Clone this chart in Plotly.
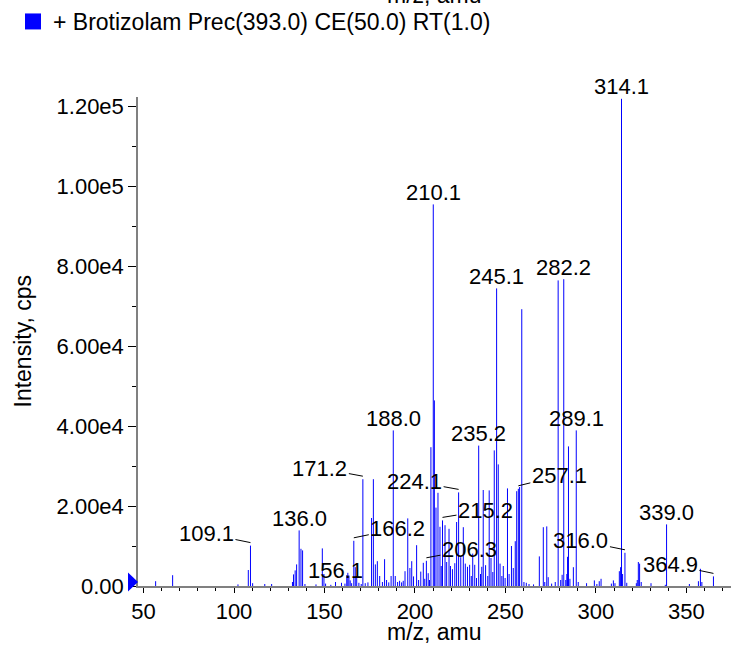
import plotly.graph_objects as go

# ---------------- data ----------------
mz = [56.7, 66.1, 102.2, 107.9, 109.1, 110.3, 117.0, 120.8, 132.3, 132.9, 133.8, 134.6,
      136.0, 137.0, 137.9, 139.2, 145.3, 148.8, 149.7, 150.6, 153.5, 156.1, 159.4, 161.3,
      162.3, 162.9, 163.5, 164.2, 165.0, 166.2, 167.0, 167.8, 169.0, 170.3, 171.2, 172.5,
      174.0, 176.0, 177.0, 178.1, 179.2, 180.5, 182.0, 183.2, 184.3, 185.5, 186.8, 188.0,
      189.1, 190.4, 191.5, 192.6, 193.5, 194.5, 196.0, 197.2, 198.2, 199.2, 200.9, 202.0,
      203.2, 204.6, 205.4, 206.3, 207.3, 208.0, 208.8, 210.1, 210.7, 211.6, 212.7, 213.8,
      214.5, 215.2, 216.6, 217.5, 218.8, 219.6, 220.7, 222.0, 223.0, 224.1, 225.3, 226.7,
      227.8, 229.0, 230.2, 231.1, 231.9, 233.0, 234.0, 235.2, 236.2, 236.9, 237.7, 239.0,
      240.2, 241.0, 242.0, 243.0, 243.8, 245.1, 246.0, 247.0, 248.0, 248.8, 249.8, 251.1,
      252.0, 253.3, 254.3, 255.4, 256.2, 257.1, 257.8, 259.0, 260.2, 261.5, 263.0, 265.5,
      268.7, 270.9, 271.7, 272.8, 273.6, 275.5, 277.5, 279.1, 280.5, 281.3, 282.2, 283.3,
      283.9, 284.3, 284.8, 285.6, 287.5, 289.1, 290.2, 294.8, 299.1, 300.5, 301.8, 302.8,
      308.5, 309.6, 310.5, 312.9, 313.6, 314.1, 314.7, 316.0, 317.0, 322.3, 322.8, 323.4,
      324.1, 325.0, 330.4, 338.3, 339.0, 351.6, 356.6, 357.7, 358.5, 364.9]

intensity = [1200, 2700, 400, 4000, 10100, 700, 500, 500, 1000, 2900, 3900, 5400,
             13900, 9300, 8900, 500, 400, 9400, 3000, 600, 300, 1000, 800, 600,
             2700, 3300, 2600, 1400, 700, 11300, 4700, 2500, 800, 500, 26700, 700,
             900, 17000, 26700, 5400, 6200, 2500, 1000, 6700, 1500, 900, 2500, 38900,
             2500, 1000, 1300, 900, 1300, 3700, 16900, 4500, 6200, 2400, 10200, 1500,
             3600, 5800, 1800, 6300, 3200, 1500, 34700, 95400, 46400, 19600, 23300, 14800,
             5000, 16400, 15200, 6000, 14300, 5000, 4200, 5700, 16000, 23400, 7200, 14700,
             5600, 4800, 5300, 2500, 8100, 5300, 2000, 35100, 3000, 4800, 24000, 5200,
             2500, 23900, 7000, 3500, 33900, 74400, 30400, 5600, 2500, 5000, 2000, 24400,
             3000, 10000, 4500, 11200, 23700, 24300, 24750, 69200, 1000, 800, 500, 400,
             7400, 14700, 1000, 14900, 2200, 600, 1000, 76400, 1500, 2800, 76700, 1500,
             3000, 7300, 34900, 1800, 4700, 38900, 1000, 700, 1400, 500, 1200, 1800,
             600, 1400, 700, 3700, 4700, 121800, 3000, 8300, 800, 700, 1500, 6000,
             5600, 1000, 700, 300, 15400, 500, 1200, 4300, 1000, 2400]

# labelled peaks
label_mz = [314.1, 210.1, 245.1, 282.2, 188.0, 235.2, 289.1, 339.0, 136.0, 156.1,
            109.1, 166.2, 171.2, 224.1, 215.2, 206.3, 257.1, 316.0, 364.9]

y_tickvals = [0, 20000, 40000, 60000, 80000, 100000, 120000]
y_ticktext = ["0.00", "2.00e4", "4.00e4", "6.00e4", "8.00e4", "1.00e5", "1.20e5"]

series_name = "+ Brotizolam Prec(393.0) CE(50.0) RT(1.0)"
x_title = "m/z, amu"
y_title = "Intensity, cps"

# ---------------- style / layout ----------------
W, H = 731, 645
ML, MR, MT, MB = 138, 0, 97, 59
PLOT_W = W - ML - MR
PLOT_H = H - MT - MB
X_RANGE = [46.96, 374.6]
Y_RANGE = [0, 122250]
FONT = "Liberation Sans, Arial, Helvetica, sans-serif"
FS_NUM = 22     # tick labels and peak labels
FS_TXT = 23     # titles and legend
BLUE = "#0000ff"

# leader-line offsets (pixels) from peak to label centre
leaders = {109.1: (-44, -9), 166.2: (44, -9), 171.2: (-43, -8), 224.1: (-44, -8),
           215.2: (43, -7), 206.3: (43, -8), 257.1: (41, -10), 316.0: (-44, -9),
           364.9: (-43, -9)}

xs, ys = [], []
for m, v in zip(mz, intensity):
    xs += [m, m, None]
    ys += [0, v, None]

fig = go.Figure()
fig.add_trace(go.Scatter(x=xs, y=ys, mode="lines",
                         line=dict(color=BLUE, width=1),
                         showlegend=False, hoverinfo="skip"))
# legend entry (blue square)
fig.add_trace(go.Scatter(x=[None], y=[None], mode="markers", name=series_name,
                         marker=dict(symbol="square", size=16, color=BLUE)))

lookup = dict(zip(mz, intensity))
annotations = []
for lm in label_mz:
    v = lookup[lm]
    txt = f"{lm:.1f}"
    if lm in leaders:
        ax, ay = leaders[lm]
        annotations.append(dict(x=lm, y=v, text=txt, showarrow=True, arrowhead=0,
                                arrowwidth=1, arrowcolor="black", ax=ax, ay=ay,
                                standoff=0, yshift=3, font=dict(size=FS_NUM)))
    else:
        annotations.append(dict(x=lm, y=v, text=txt, showarrow=False,
                                yanchor="middle", yshift=12, font=dict(size=FS_NUM)))
# axis titles
annotations.append(dict(xref="paper", yref="paper", x=0.5, y=-46 / PLOT_H,
                        text=x_title, showarrow=False, xanchor="center",
                        yanchor="middle", font=dict(size=FS_TXT)))
annotations.append(dict(xref="paper", yref="paper", x=(22 - ML) / PLOT_W, y=0.5,
                        text=y_title, showarrow=False, textangle=-90,
                        xanchor="center", yanchor="middle", font=dict(size=FS_TXT)))
# clipped axis title from the panel above (only its bottom edge peeks in)
annotations.append(dict(xref="paper", yref="paper", x=0.5,
                        y=(PLOT_H + MT - 10) / PLOT_H,
                        text=x_title, showarrow=False, yanchor="bottom",
                        font=dict(size=FS_TXT)))

# start-of-scan marker: blue triangle pointing at the y axis near zero
shapes = [dict(type="path", xref="paper", yref="paper", xsizemode="pixel",
               ysizemode="pixel", xanchor=0, yanchor=0,
               path="M -10,13.5 L 0,4 L -10,-5.5 Z",
               fillcolor=BLUE, line=dict(color=BLUE, width=0), layer="above")]

fig.update_layout(
    width=W, height=H,
    margin=dict(l=ML, r=MR, t=MT, b=MB, pad=0, autoexpand=False),
    paper_bgcolor="white", plot_bgcolor="white",
    font=dict(family=FONT, size=FS_NUM, color="black"),
    showlegend=True,
    legend=dict(xref="container", yref="container", x=13 / W, y=1 + 2 / H,
                xanchor="left", yanchor="top", bgcolor="rgba(0,0,0,0)",
                borderwidth=0, font=dict(size=FS_TXT), itemwidth=30),
    annotations=annotations,
    shapes=shapes,
    xaxis=dict(range=X_RANGE, tickmode="linear", tick0=0, dtick=50,
               ticks="outside", ticklen=5, tickcolor="black", tickwidth=1,
               showline=True, linecolor="#808080", linewidth=1.5,
               showgrid=False, zeroline=False, automargin=False,
               tickfont=dict(size=FS_NUM),
               minor=dict(tickmode="linear", tick0=0, dtick=10, ticks="outside",
                          ticklen=3, tickcolor="black", tickwidth=1, showgrid=False)),
    yaxis=dict(range=Y_RANGE, tickmode="array", tickvals=y_tickvals,
               ticktext=y_ticktext, ticks="outside", ticklen=8, tickcolor="black",
               tickwidth=1, showline=True, linecolor="#808080", linewidth=1.5,
               showgrid=False, zeroline=False, automargin=False,
               tickfont=dict(size=FS_NUM),
               minor=dict(tickmode="linear", tick0=0, dtick=10000, ticks="outside",
                          ticklen=4, tickcolor="black", tickwidth=1, showgrid=False)),
)

fig.write_html("out.html", config={"displayModeBar": False},
               post_script="document.body.style.margin='0';document.body.style.padding='0';")
